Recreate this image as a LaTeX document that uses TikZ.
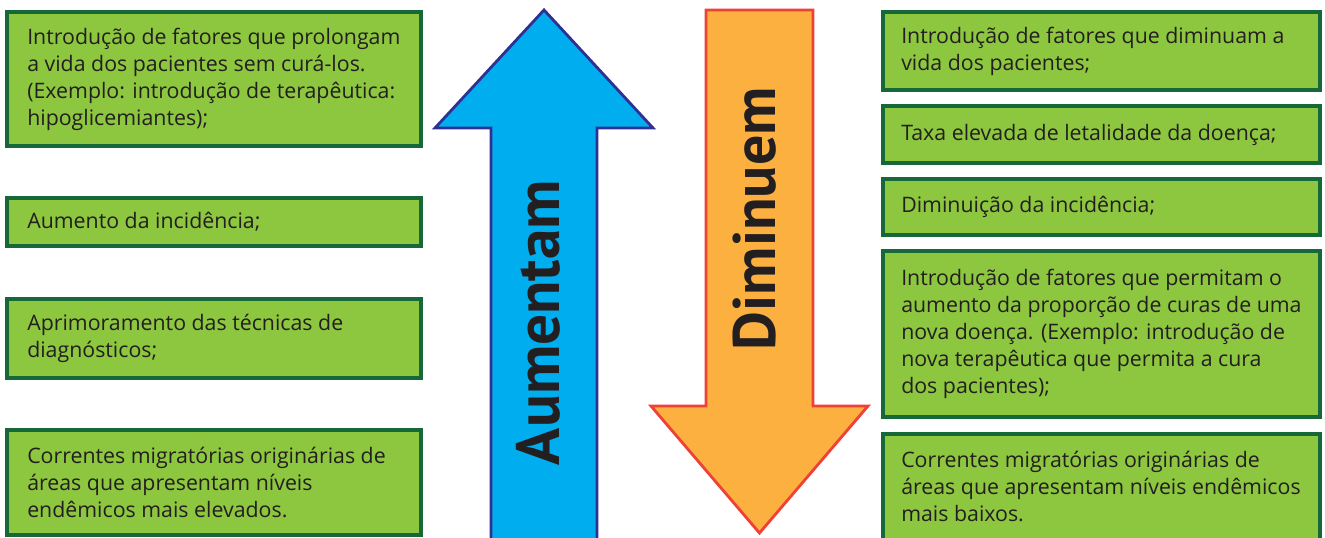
\documentclass[tikz,border=0pt]{standalone}
\usepackage{fontspec}
\setmainfont{Open Sans}
\newfontfamily\arrowfont{PT Sans}
\definecolor{boxfill}{RGB}{141,198,63}
\definecolor{boxline}{RGB}{22,104,56}
\definecolor{upfill}{RGB}{0,174,239}
\definecolor{upline}{RGB}{46,49,146}
\definecolor{downfill}{RGB}{251,176,64}
\definecolor{downline}{RGB}{239,65,54}
\definecolor{ink}{RGB}{35,31,32}
\tikzset{
  factor/.style={draw=boxline, fill=boxfill, line width=3pt, inner sep=0pt},
  lbox/.style={factor, minimum width=310.5pt},
  rbox/.style={factor, minimum width=327.75pt},
  txt/.style={anchor=west, align=left, inner sep=0pt, text=ink,
    font=\fontsize{16}{20.25}\selectfont},
  ltxt/.style={txt, xshift=16.5pt},
  rtxt/.style={txt, xshift=15pt},
  arrowbody/.style={line width=2.1pt, line join=miter},
  arrowlabel/.style={rotate=90, inner sep=0pt, text=ink}
}
\begin{document}
\begin{tikzpicture}[x=0.75pt,y=-0.75pt]
\useasboundingbox (0,0) rectangle (1325,537);

% left column: factors that raise the figure
\node[lbox, minimum height=100.5pt] (L1) at (214,79) {};
\node[lbox, minimum height=36pt]    (L2) at (214,222) {};
\node[lbox, minimum height=59.25pt] (L3) at (214,338.5) {};
\node[lbox, minimum height=78.75pt] (L4) at (214,482.5) {};

\node[ltxt] (tL1) at (L1.west) {Introdução de fatores que prolongam\\a vida dos pacientes sem curá-los.\\(Exemplo: introdução de terapêutica:\\hipoglicemiantes);};
\node[ltxt] (tL2) at (L2.west) {Aumento da incidência;};
\node[ltxt] (tL3) at (L3.west) {Aprimoramento das técnicas de\\diagnósticos;};
\node[ltxt] (tL4) at (L4.west) {Correntes migratórias originárias de\\áreas que apresentam níveis\\endêmicos mais elevados.};

% right column: factors that lower the figure
\node[rbox, minimum height=58.5pt]  (R1) at (1101.5,51) {};
\node[rbox, minimum height=42.75pt] (R2) at (1101.5,134.5) {};
\node[rbox, minimum height=42pt]    (R3) at (1101.5,207) {};
\node[rbox, minimum height=124.5pt] (R4) at (1101.5,334) {};
\node[rbox, minimum height=83.25pt] (R5) at (1101.5,489.5) {};

\node[rtxt] (tR1) at (R1.west) {Introdução de fatores que diminuam a\\vida dos pacientes;};
\node[rtxt] (tR2) at (R2.west) {Taxa elevada de letalidade da doença;};
\node[rtxt] (tR3) at (R3.west) {Diminuição da incidência;};
\node[rtxt] (tR4) at (R4.west) {Introdução de fatores que permitam o\\aumento da proporção de curas de uma\\nova doença. (Exemplo: introdução de\\nova terapêutica que permita a cura\\dos pacientes);};
\node[rtxt] (tR5) at ([yshift=2.6pt]R5.west) {Correntes migratórias originárias de\\áreas que apresentam níveis endêmicos\\mais baixos.};

% upward arrow
\draw[arrowbody, draw=upline, fill=upfill]
  (491,548) -- (491,128) -- (435,128) -- (544,10) -- (653,128) -- (597,128) -- (597,548) -- cycle;
\node[arrowlabel] (up) at (538,322.5)
  {\resizebox{213.75pt}{!}{\arrowfont\bfseries Aumentam}};

% downward arrow
\draw[arrowbody, draw=downline, fill=downfill]
  (706,10) -- (813,10) -- (813,406) -- (868,406) -- (759.5,533) -- (651,406) -- (706,406) -- cycle;
\node[arrowlabel] (down) at (754.5,218.5)
  {\resizebox{197.25pt}{!}{\arrowfont\bfseries Diminuem}};
\end{tikzpicture}
\end{document}
